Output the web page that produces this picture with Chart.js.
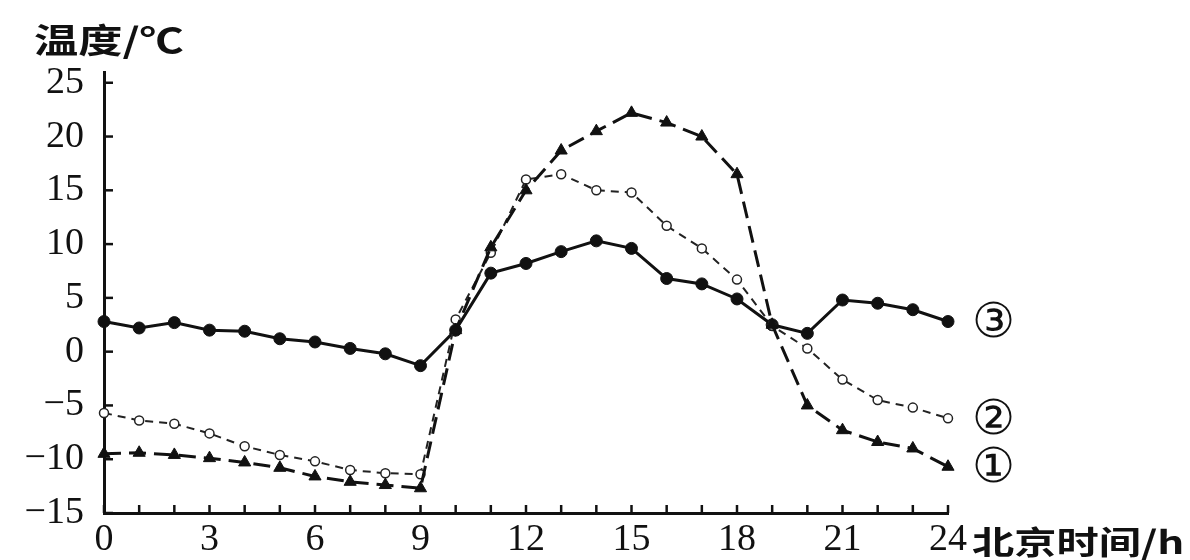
<!DOCTYPE html>
<html>
<head>
<meta charset="utf-8">
<script src="https://cdn.jsdelivr.net/npm/chart.js@4/dist/chart.umd.min.js"></script>
<style>
  html, body { margin: 0; padding: 0; background: #fff; }
  #wrap { width: 1190px; height: 560px; }
</style>
</head>
<body>
<div id="wrap"><canvas id="tempChart" width="1190" height="560"></canvas></div>
<script>
const hours = [0, 1, 2, 3, 4, 5, 6, 7, 8, 9, 10, 11, 12, 13, 14, 15, 16, 17, 18, 19, 20, 21, 22, 23, 24];
const yTicks = [-15, -10, -5, 0, 5, 10, 15, 20, 25];
const series1 = [-9.5, -9.4, -9.6, -9.9, -10.3, -10.8, -11.6, -12.1, -12.4, -12.7, 2.0, 9.7, 15.0, 18.7, 20.5, 22.2, 21.3, 20.0, 16.5, 2.5, -5.0, -7.3, -8.4, -9.0, -10.7];
const series2 = [-5.7, -6.4, -6.7, -7.6, -8.8, -9.6, -10.2, -11.0, -11.3, -11.4, 3.0, 9.2, 16.0, 16.5, 15.0, 14.8, 11.7, 9.6, 6.7, 2.4, 0.3, -2.6, -4.5, -5.2, -6.2];
const series3 = [2.8, 2.2, 2.7, 2.0, 1.9, 1.2, 0.9, 0.3, -0.2, -1.3, 2.0, 7.3, 8.2, 9.3, 10.3, 9.6, 6.8, 6.3, 4.9, 2.5, 1.7, 4.8, 4.5, 3.9, 2.8];
const seriesNames = ["①", "②", "③"];
const yTitle = "温度/℃";
const xTitle = "北京时间/h";

const toPoints = (vals) => vals.map((v, i) => ({ x: hours[i], y: v }));
const serif = "'Liberation Serif', 'DejaVu Serif', serif";
const cjk = "'Noto Sans CJK SC', sans-serif";

// text drawn a bit wider, like the scanned figure
function wideText(ctx, text, x, y, sx) {
  ctx.save();
  ctx.translate(x, y);
  ctx.scale(sx, 1);
  ctx.fillText(text, 0, 0);
  ctx.restore();
}

// tick marks drawn inward + titles + end labels
const decor = {
  id: "decor",
  afterDraw(chart) {
    const { ctx, chartArea, scales } = chart;
    const x = scales.x, y = scales.y;
    ctx.save();
    ctx.strokeStyle = "#111";
    ctx.lineWidth = 2.5;
    yTicks.forEach((v) => {
      const py = y.getPixelForValue(v);
      ctx.beginPath();
      ctx.moveTo(chartArea.left, py);
      ctx.lineTo(chartArea.left + 9, py);
      ctx.stroke();
    });
    hours.forEach((h) => {
      const px = x.getPixelForValue(h);
      ctx.beginPath();
      ctx.moveTo(px, chartArea.bottom);
      ctx.lineTo(px, chartArea.bottom - 8);
      ctx.stroke();
    });

    ctx.fillStyle = "#111";
    ctx.textBaseline = "middle";
    ctx.textAlign = "left";
    ctx.font = "bold 34px " + cjk;
    wideText(ctx, yTitle, 34, 40, 1.3);
    ctx.font = "bold 32px " + cjk;
    wideText(ctx, xTitle, 972, 542, 1.32);

    ctx.font = "48px " + serif;
    chart.data.datasets.forEach((ds, i) => {
      const meta = chart.getDatasetMeta(i);
      const last = meta.data[meta.data.length - 1];
      ctx.fillText(seriesNames[i], last.x + 24, last.y + 3);
    });
    ctx.restore();
  },
};

const ctx = document.getElementById("tempChart").getContext("2d");
new Chart(ctx, {
  type: "line",
  data: {
    datasets: [
      {
        label: seriesNames[0],
        data: toPoints(series1),
        borderColor: "#111",
        backgroundColor: "#111",
        borderWidth: 3,
        borderDash: [17, 8],
        pointStyle: "triangle",
        pointRadius: 7,
        pointBorderWidth: 1,
        tension: 0,
        clip: false,
      },
      {
        label: seriesNames[1],
        data: toPoints(series2),
        borderColor: "#222",
        backgroundColor: "#fff",
        borderWidth: 2,
        borderDash: [8, 6],
        pointStyle: "circle",
        pointRadius: 4.5,
        pointBorderWidth: 1.5,
        tension: 0,
        clip: false,
      },
      {
        label: seriesNames[2],
        data: toPoints(series3),
        borderColor: "#111",
        backgroundColor: "#111",
        borderWidth: 3,
        pointStyle: "circle",
        pointRadius: 6,
        pointBorderWidth: 1,
        tension: 0,
        clip: false,
      },
    ],
  },
  options: {
    responsive: false,
    animation: false,
    layout: { padding: { top: 72, right: 242, left: 0, bottom: 0 } },
    plugins: {
      legend: { display: false },
      tooltip: { enabled: false },
    },
    scales: {
      x: {
        type: "linear",
        min: 0,
        max: 24,
        afterFit: (scale) => { scale.height = 47; },
        afterBuildTicks: (scale) => { scale.ticks = hours.map((h) => ({ value: h })); },
        grid: { display: false, drawTicks: false },
        border: { display: true, color: "#111", width: 3 },
        ticks: {
          autoSkip: false,
          maxRotation: 0,
          padding: 4,
          color: "#111",
          font: { family: serif, size: 38 },
          callback: (v) => (v % 3 === 0 ? String(v) : ""),
        },
      },
      y: {
        min: -15,
        max: 26,
        afterFit: (scale) => { scale.width = 104; },
        afterBuildTicks: (scale) => { scale.ticks = yTicks.map((v) => ({ value: v })); },
        grid: { display: false, drawTicks: false },
        border: { display: true, color: "#111", width: 3 },
        ticks: {
          padding: 20,
          color: "#111",
          font: { family: serif, size: 38 },
          callback: (v) => String(v).replace("-", "\u2212"),
        },
      },
    },
  },
  plugins: [decor],
});
</script>
</body>
</html>
